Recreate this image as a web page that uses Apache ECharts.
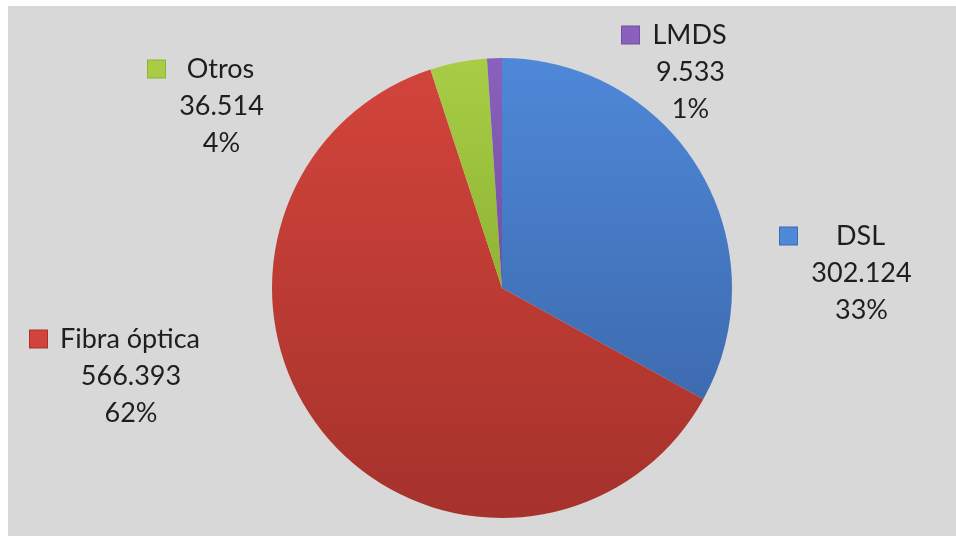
<!DOCTYPE html>
<html>
<head>
<meta charset="utf-8">
<script src="https://cdn.jsdelivr.net/npm/echarts@6/dist/echarts.min.js"></script>
<style>
html,body{margin:0;padding:0;background:#ffffff;overflow:hidden;}
#wrap{position:absolute;left:8px;top:6px;width:948px;height:530px;background:#d8d8d8;}
#chart{width:948px;height:530px;}
</style>
</head>
<body>
<div id="wrap"><div id="chart"></div></div>
<script>
// Data
const categories = ['DSL', 'Fibra óptica', 'Otros', 'LMDS'];
const values = [302124, 566393, 36514, 9533];
const colors = [
  ['#4f88d8', '#3d6bb0'],
  ['#d2443b', '#a5322b'],
  ['#a8cd45', '#8fb434'],
  ['#8a60bd', '#7150a0']
];

const FONT = 'Lato';
const FS = 27;
const LH = 37;
const SQ = 17;
const GAP = 11;

function fmt(v) {
  return String(v).replace(/\B(?=(\d{3})+(?!\d))/g, '.');
}
const ctx = document.createElement('canvas').getContext('2d');
ctx.font = FS + 'px ' + FONT;
function tw(s) { return Math.ceil(ctx.measureText(s).width); }

// label block anchor (left of marker square, vertical middle of block) in chart coords
const labelAnchors = [
  [772, 267],
  [22, 370],
  [140, 100],
  [614, 66]
];

const total = values.reduce((a, b) => a + b, 0);

const data = categories.map((c, i) => {
  const pct = Math.round(values[i] / total * 100) + '%';
  const W = Math.max(tw(c), tw(fmt(values[i])), tw(pct)) + 2;
  const rich = {
    sq: { width: SQ, height: SQ, backgroundColor: colors[i][0], borderColor: colors[i][1], borderWidth: 1 },
    gap: { width: GAP },
    sp: { width: SQ + GAP + 2 },
    t: { width: W, align: 'center', fontSize: FS, lineHeight: LH, fontFamily: FONT, color: '#1e1e1e' }
  };
  return {
    name: c,
    value: values[i],
    itemStyle: {
      color: new echarts.graphic.LinearGradient(0, 0, 0, 1, [
        { offset: 0, color: colors[i][0] },
        { offset: 1, color: colors[i][1] }
      ])
    },
    label: {
      formatter: '{sq| }{gap| }{t|' + c + '}\n{sp| }{t|' + fmt(values[i]) + '}\n{sp| }{t|' + pct + '}',
      rich: rich
    }
  };
});

const chart = echarts.init(document.getElementById('chart'), null, { renderer: 'canvas' });
chart.setOption({
  backgroundColor: '#d8d8d8',
  animation: false,
  series: [{
    type: 'pie',
    center: [494, 282],
    radius: 230,
    startAngle: 90,
    clockwise: true,
    avoidLabelOverlap: false,
    data: data,
    label: {
      show: true,
      position: 'outside',
      fontFamily: FONT,
      fontSize: FS,
      lineHeight: LH,
      color: '#1e1e1e'
    },
    labelLine: { show: false },
    labelLayout: function (p) {
      const a = labelAnchors[p.dataIndex];
      return { x: a[0], y: a[1], align: 'left', verticalAlign: 'middle', hideOverlap: false };
    },
    emphasis: { disabled: true }
  }]
});
</script>
</body>
</html>
